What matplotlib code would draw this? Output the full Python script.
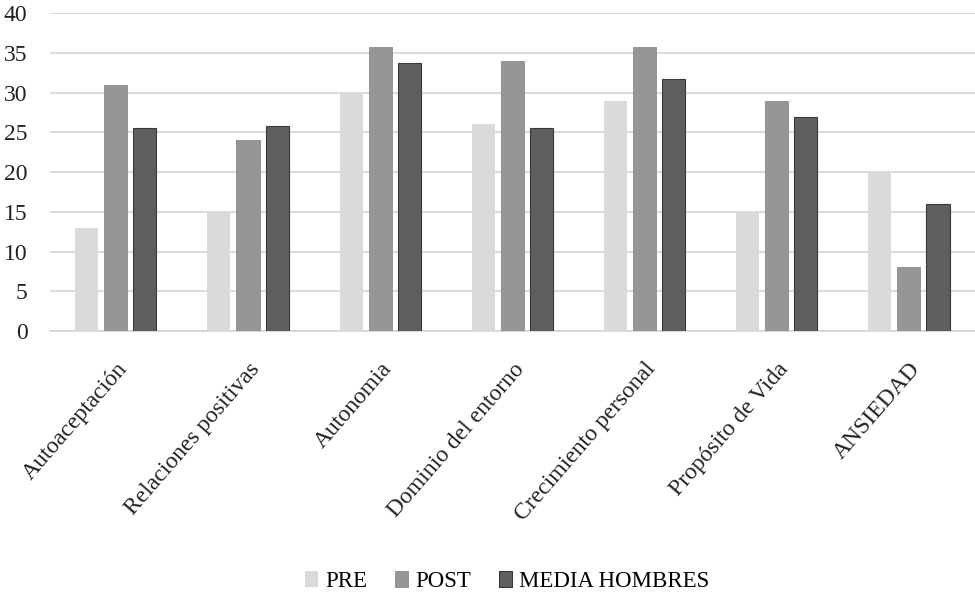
import numpy as np
import matplotlib
matplotlib.use('Agg')
import matplotlib.pyplot as plt

plt.rcParams['font.family'] = ['Liberation Serif', 'DejaVu Serif']

categories = ['Autoaceptación', 'Relaciones positivas', 'Autonomia', 'Dominio del entorno',
              'Crecimiento personal', 'Propósito de Vida', 'ANSIEDAD']
pre = [13, 15, 30, 26, 29, 15, 20]
post = [31, 24, 35.8, 34, 35.8, 29, 8]
media_hombres = [25.5, 25.8, 33.7, 25.5, 31.7, 26.9, 16]
series_names = ['PRE', 'POST', 'MEDIA HOMBRES']

fig = plt.figure(figsize=(9.75, 5.98), dpi=100)
ax = fig.add_axes([0.051, 0.4465, 0.949, 0.5315])

x = np.arange(len(categories))
w = 0.175
step = 0.22
ax.bar(x - step, pre, w, color='#dadada', label=series_names[0], zorder=3)
ax.bar(x, post, w, color='#969696', edgecolor='#8a8a8a', linewidth=0.6,
       label=series_names[1], zorder=3)
ax.bar(x + step, media_hombres, w, color='#5f5f5f', edgecolor='#3a3a3a', linewidth=0.8,
       label=series_names[2], zorder=3)

ax.set_xlim(-0.5, len(categories) - 0.5)
ax.set_ylim(0, 40)
ax.set_yticks(range(0, 41, 5))
ax.yaxis.grid(True, color='#d4d4d4', linewidth=1.2, zorder=0)
ax.set_axisbelow(True)
for s in ['top', 'right', 'left']:
    ax.spines[s].set_visible(False)
ax.spines['bottom'].set_color('#d4d4d4')
ax.spines['bottom'].set_linewidth(1.2)
ax.tick_params(axis='both', length=0, labelsize=17, colors='#222222')
ax.tick_params(axis='y', pad=16)
ax.set_xticks(x)
ax.set_xticklabels(categories, rotation=49, ha='right', rotation_mode='anchor')
ax.tick_params(axis='x', pad=20)

leg = fig.legend(loc='lower center', bbox_to_anchor=(0.52, -0.025), ncol=3, frameon=False,
                 fontsize=16.5, handlelength=0.6, handleheight=0.7, handletextpad=0.3,
                 columnspacing=1.2)

fig.savefig('out.png', dpi=100)
